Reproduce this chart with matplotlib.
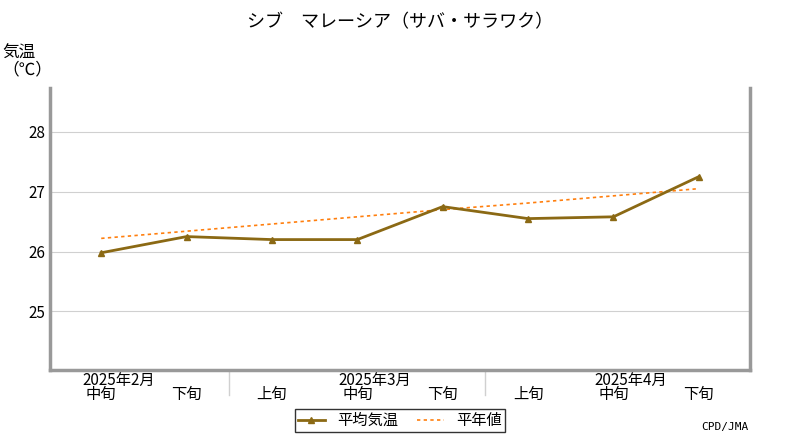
import matplotlib
matplotlib.use("Agg")
import matplotlib.pyplot as plt

plt.rcParams["font.family"] = "Noto Sans CJK JP"

dekads = ["中旬", "下旬", "上旬", "中旬", "下旬", "上旬", "中旬", "下旬"]
months = ["2025年2月", "2025年3月", "2025年4月"]
month_pos = [0, 3, 6]
temp_mean = [25.98, 26.25, 26.20, 26.20, 26.75, 26.55, 26.58, 27.25]
temp_normal = [26.22, 26.34, 26.46, 26.58, 26.70, 26.81, 26.93, 27.05]

fig = plt.figure(figsize=(8, 4.4), dpi=100)
ax = fig.add_axes([0.0625, 0.16, 0.875, 0.64])
x = list(range(len(temp_mean)))

l_norm, = ax.plot(x, temp_normal, linestyle=(0, (2, 2)), color="#ff7f0e", linewidth=1.2, label="平年値", zorder=2)
l_mean, = ax.plot(x, temp_mean, color="#8b6914", linewidth=2, marker="^", markersize=5, label="平均気温", zorder=3)

ax.set_xlim(-0.6, 7.6)
ax.set_ylim(24.03, 28.73)
ax.set_yticks([25, 26, 27, 28])
ax.grid(axis="y", color="#d0d0d0", linewidth=0.8)
ax.tick_params(axis="y", length=0, labelsize=11)
ax.tick_params(axis="x", length=0, pad=12)
ax.set_xticks(x)
ax.set_xticklabels(dekads, fontsize=11)
for i, m in zip(month_pos, months):
    ax.text(i + 0.2, -0.01, m, transform=ax.get_xaxis_transform(), ha="center", va="top", fontsize=11)
for sep in [1.5, 4.5]:
    ax.plot([sep, sep], [0, -0.09], transform=ax.get_xaxis_transform(), color="#d0d0d0", clip_on=False, linewidth=1)

ax.spines["top"].set_visible(False)
for s in ["left", "right", "bottom"]:
    ax.spines[s].set_color("#999999")
    ax.spines[s].set_linewidth(2.5)

fig.text(0.5, 0.95, "シブ　マレーシア（サバ・サラワク）", ha="center", va="center", fontsize=13)
fig.text(0.003, 0.86, "気温\n（℃）", ha="left", va="center", fontsize=12, linespacing=1.0)
fig.text(0.935, 0.03, "CPD/JMA", ha="right", va="center", fontsize=8, family="DejaVu Sans Mono")

fig.legend(handles=[l_mean, l_norm], loc="lower center", bbox_to_anchor=(0.5, 0.0), ncol=2, fontsize=11, frameon=True,
           fancybox=False, edgecolor="black", borderpad=0.2, handlelength=1.8, columnspacing=1.2)

fig.savefig("out.png", dpi=100)
